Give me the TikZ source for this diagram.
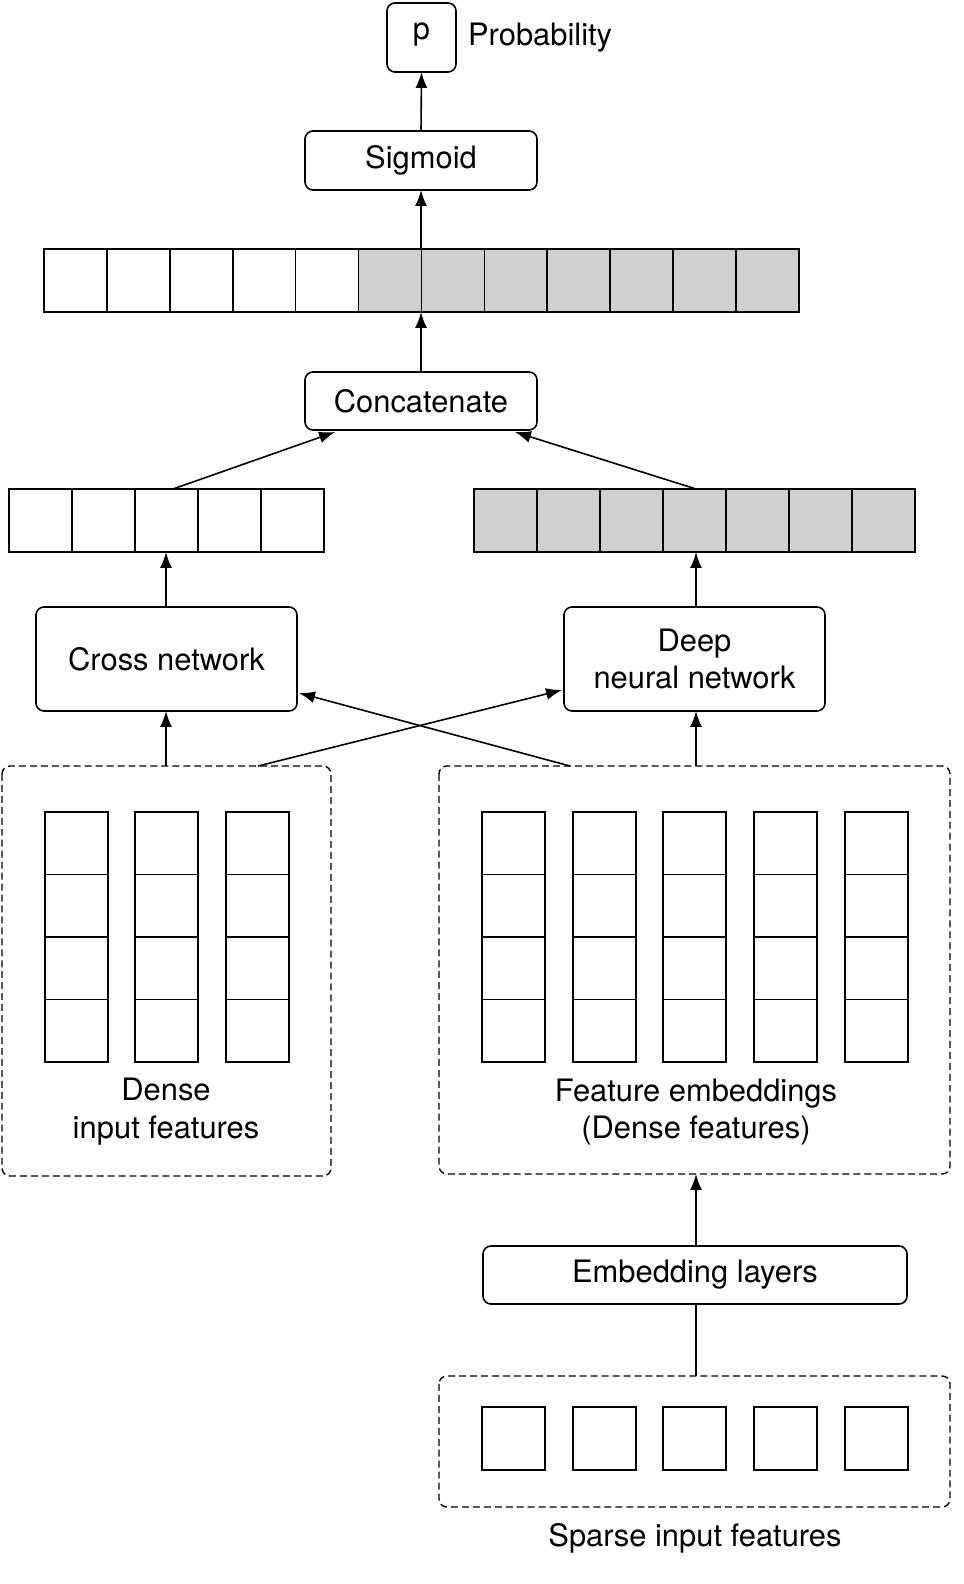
\documentclass[tikz,border=0pt]{standalone}
\usepackage{fontspec}
\setmainfont{TeX Gyre Heros}
\usetikzlibrary{arrows.meta}
\begin{document}
\begin{tikzpicture}[x=1bp,y=-1bp,line width=1.6pt,
  rbox/.style={draw,rounded corners=8pt},
  dbox/.style={draw,dash pattern=on 7pt off 4pt,rounded corners=8pt,line width=1.4pt},
  arr/.style={-{Latex[length=16pt,width=12pt]}},
  lbl/.style={font=\fontsize{31}{38}\selectfont,align=center},
  cellw/.style={draw,fill=white},
  cellg/.style={draw,fill=gray!38}]
\useasboundingbox (0,0) rectangle (963,1584);
% p
\draw[rbox] (387,3) rectangle (456,72);
\node[lbl] (p) at (421.5,35) {p};
\coordinate (pb) at (421.5,72);
\node[lbl,anchor=west] (prob) at (464,38) {Probability};
% sigmoid
\draw[rbox] (305,131) rectangle (537,190);
\node[lbl] (sig) at (421,160) {Sigmoid};
\coordinate (sigt) at (421,131); \coordinate (sigb) at (421,190);
\draw[arr] (sigt) -- (pb);
% top bar
\foreach \i in {0,...,4}{\draw[cellw] (44+\i*62.9,249) rectangle ++(62.9,63);}
\foreach \i in {5,...,11}{\draw[cellg] (44+\i*62.9,249) rectangle ++(62.9,63);}
\coordinate (bart) at (421,249); \coordinate (barb) at (421,312);
\draw[arr] (bart) -- (sigb);
% concatenate
\draw[rbox] (305,372) rectangle (537,430);
\node[lbl] (cat) at (421,401) {Concatenate};
\coordinate (catt) at (421,372);
\coordinate (catl) at (335,432); \coordinate (catr) at (515,432);
\draw[arr] (catt) -- (barb);
% left bar
\foreach \i in {0,...,4}{\draw[cellw] (9+\i*63,489) rectangle ++(63,63);}
\coordinate (lbt) at (173,489); \coordinate (lbb) at (166,552);
\draw[arr] (lbt) -- (catl);
% right bar
\foreach \i in {0,...,6}{\draw[cellg] (474+\i*63,489) rectangle ++(63,63);}
\coordinate (rbt) at (696,489); \coordinate (rbb) at (696,552);
\draw[arr] (rbt) -- (catr);
% cross & dnn
\draw[rbox] (36,607) rectangle (297,711);
\node[lbl] (cross) at (166.5,659) {Cross network};
\draw[rbox] (564,607) rectangle (825,711);
\node[lbl] (dnn) at (694.5,659) {Deep\\neural network};
\draw[arr] (166,607) -- (lbb);
\draw[arr] (696,607) -- (rbb);
% dense box
\draw[dbox] (2,766) rectangle (331,1176);
\foreach \x in {45,135,226}{\foreach \j in {0,...,3}{\draw[cellw] (\x,812+\j*62.5) rectangle ++(63,62.5);}}
\node[lbl] (dense) at (166,1112) {Dense\\input features};
\coordinate (dt) at (166,766); \coordinate (dt2) at (258,766);
\draw[arr] (dt) -- (166,711);
\draw[arr] (dt2) -- (562,690);
% feature box
\draw[dbox] (439,766) rectangle (950,1174);
\foreach \x in {482,573,663,754,845}{\foreach \j in {0,...,3}{\draw[cellw] (\x,812+\j*62.5) rectangle ++(63,62.5);}}
\node[lbl] (feat) at (696,1112) {Feature embeddings\\(Dense features)};
\coordinate (ft) at (696,766); \coordinate (ft2) at (570,766);
\draw[arr] (ft) -- (696,711);
\draw[arr] (ft2) -- (299,693);
% embedding
\draw[rbox] (483,1246) rectangle (907,1304);
\node[lbl] (emb) at (695,1275) {Embedding layers};
\draw[arr] (696,1246) -- (696,1174);
\draw (696,1304) -- (696,1376);
% sparse
\draw[dbox] (439,1376) rectangle (950,1507);
\foreach \x in {482,573,663,754,845}{\draw[cellw] (\x,1407) rectangle ++(63,63);}
\node[lbl] (sparse) at (695,1538) {Sparse input features};
\end{tikzpicture}
\end{document}
